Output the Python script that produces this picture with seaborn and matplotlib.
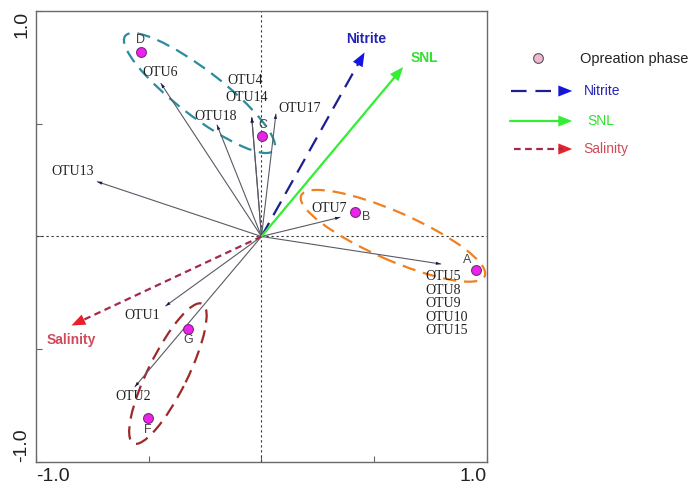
import numpy as np
import matplotlib
matplotlib.use("Agg")
import matplotlib.pyplot as plt
import seaborn as sns
import pandas as pd
from matplotlib.patches import Ellipse, FancyArrowPatch

sns.set_style("white")
plt.rcParams['font.family'] = ['Liberation Sans', 'DejaVu Sans']

# operation phases (sample scores)
samples = ['A', 'B', 'C', 'D', 'F', 'G']
sample_x = [0.951, 0.416, 0.004, -0.536, -0.502, -0.325]
sample_y = [-0.149, 0.107, 0.446, 0.820, -0.803, -0.412]

# OTU arrows
otu_labels = ['OTU6', 'OTU4', 'OTU14', 'OTU18', 'OTU17', 'OTU13', 'OTU7',
              'OTU5\nOTU8\nOTU9\nOTU10\nOTU15', 'OTU1', 'OTU2']
otu_x = [-0.446, -0.043, -0.043, -0.197, 0.064, -0.728, 0.348, 0.795, -0.425, -0.561]
otu_y = [0.679, 0.527, 0.527, 0.494, 0.543, 0.243, 0.085, -0.122, -0.308, -0.666]

# environmental arrows
env_names = ['Nitrite', 'SNL', 'Salinity']
env_x = [0.463, 0.636, -0.854]
env_y = [0.827, 0.761, -0.400]

# label offsets in pixels (layout only)
sample_off = {'A': (-9, 10), 'B': (11, -5), 'C': (0, 11), 'D': (0, 12), 'F': (0, -12), 'G': (0, -11)}
otu_off = [(-1, 11), (-7, 37), (-5, 20), (-1, 9), (24, 6), (-25, 10), (-11, 9), (-15, -40), (-23, -10), (-2, -10)]
otu_ha = ['center'] * 7 + ['left'] + ['center'] * 2
env_off = [(0, 11), (19, 7), (2, -13)]
env_line = ['#1e1e8c', '#33ee33', '#a52a4a']
env_head = ['#1414e6', '#33ee33', '#e8202a']
env_text = ['#2424b4', '#33e033', '#d24a5a']
env_ls = [(0, (7, 4)), '-', (0, (3, 2))]

fig = plt.figure(figsize=(7, 4.95), dpi=100)
ax = fig.add_axes([0.0514, 0.0667, 0.6443, 0.9111])

ax.axhline(0, color='#333333', lw=0.8, ls=(0, (2, 2.5)), zorder=1)
ax.axvline(0, color='#333333', lw=0.8, ls=(0, (2, 2.5)), zorder=1)

# groups ellipses
ax.add_patch(Ellipse((-0.275, 0.636), 0.831, 0.203, angle=-37.6, fill=False,
                     ec='#2b8c9c', lw=1.6, ls=(0, (6, 3.5)), zorder=2))
ax.add_patch(Ellipse((0.583, 0.003), 0.889, 0.213, angle=-23.7, fill=False,
                     ec='#f08020', lw=1.6, ls=(0, (6, 3.5)), zorder=2))
ax.add_patch(Ellipse((-0.415, -0.608), 0.69, 0.175, angle=63.7, fill=False,
                     ec='#9c2a2a', lw=1.6, ls=(0, (6, 3.5)), zorder=2))

# OTU arrows
for lab, x, y, off, ha in zip(otu_labels, otu_x, otu_y, otu_off, otu_ha):
    ax.plot([0, x], [0, y], color='#5a5a66', lw=0.8, zorder=3)
    d = np.array([x, y]) / np.hypot(x, y)
    ax.annotate('', xy=(x, y), xytext=(x - 0.02 * d[0], y - 0.02 * d[1]),
                arrowprops=dict(arrowstyle='-|>,head_length=0.35,head_width=0.12',
                                color='#1a1a50', lw=0), zorder=4)
    ax.annotate(lab, xy=(x, y), xytext=off, textcoords='offset pixels',
                ha=ha, va='center', fontsize=10, family='Liberation Serif',
                color='#222222', linespacing=1.05, zorder=5)

# environmental arrows
for name, x, y, off, lc, hc, tc, ls in zip(env_names, env_x, env_y, env_off,
                                           env_line, env_head, env_text, env_ls):
    d = np.array([x, y]) / np.hypot(x, y)
    ax.plot([0, x - 0.045 * d[0]], [0, y - 0.045 * d[1]], color=lc, lw=1.6, ls=ls, zorder=3)
    ax.annotate('', xy=(x, y), xytext=(x - 0.07 * d[0], y - 0.07 * d[1]),
                arrowprops=dict(arrowstyle='-|>,head_length=1.0,head_width=0.4',
                                color=hc, lw=0), zorder=4)
    ax.annotate(name, xy=(x, y), xytext=off, textcoords='offset pixels',
                ha='center', va='center', fontsize=10, fontweight='bold',
                color=tc, zorder=5)

# samples
df = pd.DataFrame({'x': sample_x, 'y': sample_y, 'phase': samples})
sns.scatterplot(data=df, x='x', y='y', ax=ax, color='#ee22ee', edgecolor='#7a2a7a',
                linewidth=0.8, s=50, zorder=6, legend=False)
for s, x, y in zip(samples, sample_x, sample_y):
    ax.annotate(s, xy=(x, y), xytext=sample_off[s], textcoords='offset pixels',
                ha='center', va='center', fontsize=9, color='#444444', zorder=7)

ax.set_xlim(-1, 1)
ax.set_ylim(-1, 1)
ax.set_xlabel('')
ax.set_ylabel('')
ax.set_xticks([-1, -0.5, 0, 0.5, 1])
ax.set_yticks([-1, -0.5, 0, 0.5, 1])
ax.set_xticklabels(['-1.0', '', '', '', '1.0'], fontsize=14, color='#222222')
ax.set_yticklabels(['-1.0', '', '', '', '1.0'], fontsize=14, color='#222222',
                   rotation=90)
xt = ax.get_xticklabels()
xt[0].set_ha('left')
xt[-1].set_ha('right')
yt = ax.get_yticklabels()
yt[0].set_va('bottom')
yt[-1].set_va('top')
ax.tick_params(direction='in', length=4, width=0.8, color='#666666', pad=4,
               bottom=True, left=True)
for sp in ax.spines.values():
    sp.set_color('#6a6a6a')
    sp.set_linewidth(1.0)

# legend drawn in figure pixels
def fx(px):
    return px / 700.0

def fy(py):
    return 1 - py / 495.0

fig.add_artist(plt.Line2D([fx(538)], [fy(58)], marker='o', ms=7, mfc='#f4b4d4',
                          mec='#555555', mew=0.8, ls='none', transform=fig.transFigure))
fig.text(fx(580), fy(59), 'Opreation phase', fontsize=10.5, color='#222222',
         va='center', ha='left')
leg_y = [91, 121, 149]
leg_x0 = [511, 510, 514]
leg_txt_x = [584, 587, 583]
for name, yy, x0, tx, lc, hc, tc, ls in zip(env_names, leg_y, leg_x0, leg_txt_x,
                                            env_line, env_head, env_text, env_ls):
    fig.add_artist(plt.Line2D([fx(x0), fx(563)], [fy(yy), fy(yy)], color=lc, lw=1.6,
                              ls=ls, transform=fig.transFigure))
    fig.add_artist(FancyArrowPatch(
        (fx(558), fy(yy)), (fx(575), fy(yy)), transform=fig.transFigure,
        arrowstyle='-|>,head_length=1.0,head_width=0.4', mutation_scale=10,
        color=hc, lw=0))
    fig.text(fx(tx), fy(yy), name, fontsize=10, color=tc, va='center', ha='left')

fig.savefig('out.png', dpi=100)
